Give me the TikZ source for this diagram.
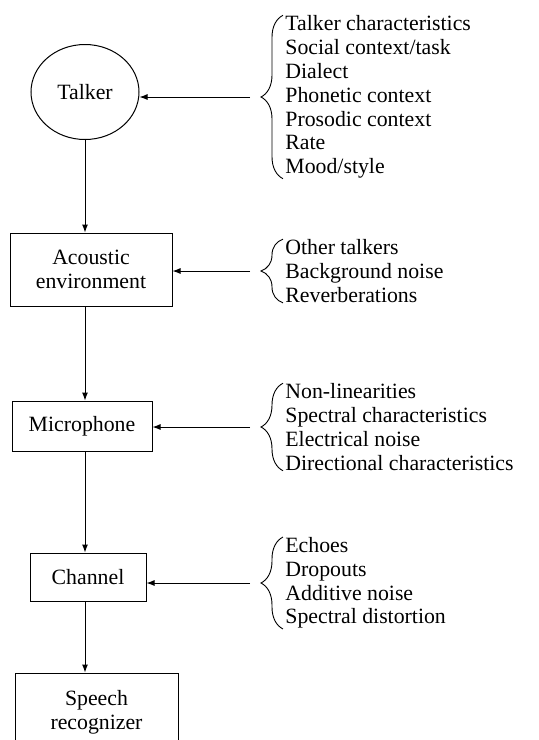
\documentclass[tikz,border=0pt]{standalone}
\usepackage{fontspec}
\setmainfont{Liberation Serif}
\usetikzlibrary{shapes.geometric, arrows.meta, positioning, decorations.pathreplacing}

\begin{document}
\begin{tikzpicture}[x=0.5pt,y=-0.5pt,
  font=\fontsize{10.9}{11.9}\selectfont,
  block/.style={draw,line width=0.5pt,align=center,inner sep=0pt},
  flow/.style={-{Latex[length=4pt,width=3pt]},line width=0.5pt},
  factors/.style={anchor=west,align=left,inner sep=0pt},
  fxbrace/.style={decorate,decoration={brace,amplitude=11pt},line width=0.45pt}]
\useasboundingbox (0,0) rectangle (539,740);

% stages of the chain
\node[ellipse,block,minimum width=54pt,minimum height=47.5pt] (talker) at (85,92) {Talker};
\node[block,minimum width=81pt,minimum height=36.5pt] (acoustic) at (91,269.5) {Acoustic\\environment};
\node[block,minimum width=70pt,minimum height=25pt] (mic) at (82,426) {Microphone};
\node[block,minimum width=58pt,minimum height=24pt] (channel) at (88,577) {Channel};
\node[block,minimum width=81.5pt,minimum height=39.5pt] (speech) at (96.5,712.5) {Speech\\recognizer};

% sources of variability
\node[factors] (fx1) at (285,97) {Talker characteristics\\Social context/task\\Dialect\\Phonetic context\\Prosodic context\\Rate\\Mood/style};
\node[factors] (fx2) at (285,271) {Other talkers\\Background noise\\Reverberations};
\node[factors] (fx3) at (285,427) {Non-linearities\\Spectral characteristics\\Electrical noise\\Directional characteristics};
\node[factors] (fx4) at (285,583) {Echoes\\Dropouts\\Additive noise\\Spectral distortion};

\foreach \f in {fx1,fx2,fx3,fx4}
  \draw[fxbrace] ([xshift=-1pt]\f.south west) -- ([xshift=-1pt]\f.north west);

% signal path
\draw[flow] (talker.south) -- (talker.south |- acoustic.north);
\draw[flow] (acoustic.south -| talker.south) -- (talker.south |- mic.north);
\draw[flow] (mic.south -| talker.south) -- (talker.south |- channel.north);
\draw[flow] (channel.south -| talker.south) -- (talker.south |- speech.north);

% influences
\draw[flow] ([xshift=-17.5pt]fx1.west) -- (fx1.west -| talker.east);
\draw[flow] ([xshift=-17.5pt]fx2.west) -- (fx2.west -| acoustic.east);
\draw[flow] ([xshift=-17.5pt]fx3.west) -- (fx3.west -| mic.east);
\draw[flow] ([xshift=-17.5pt]fx4.west) -- (fx4.west -| channel.east);
\end{tikzpicture}
\end{document}
